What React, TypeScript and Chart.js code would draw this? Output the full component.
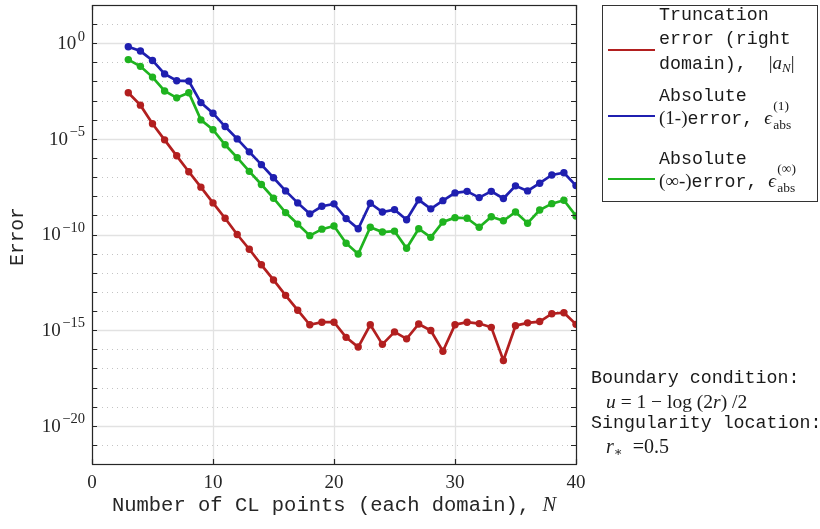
import React, { useEffect, useRef } from "react";
import { Chart, registerables } from "chart.js";

Chart.register(...registerables);

const nValues = [3,4,5,6,7,8,9,10,11,12,13,14,15,16,17,18,19,20,21,22,23,24,25,26,27,28,29,30,31,32,33,34,35,36,37,38,39,40];

const truncationError = [2.6e-3,5.8e-4,6.2e-5,8.9e-6,1.3e-6,1.9e-7,3.0e-8,4.5e-9,7.1e-10,1.0e-10,1.7e-11,2.6e-12,4.2e-13,6.6e-14,1.1e-14,1.9e-15,2.6e-15,2.6e-15,4.2e-16,1.3e-16,1.9e-15,1.8e-16,8.1e-16,3.5e-16,2.1e-15,9.5e-16,7.9e-17,1.9e-15,2.6e-15,2.2e-15,1.4e-15,2.6e-17,1.7e-15,2.4e-15,2.8e-15,7.2e-15,8.1e-15,2.0e-15];

const absError1 = [0.66,0.39,0.126,2.5e-2,1.1e-2,1.05e-2,7.9e-4,2.2e-4,4.4e-5,1.0e-5,2.1e-6,4.5e-7,9.3e-8,1.9e-8,4.5e-9,1.2e-9,3.0e-9,4.0e-9,6.8e-10,2.0e-10,4.3e-9,1.5e-9,2.0e-9,5.9e-10,6.5e-9,2.2e-9,5.9e-9,1.5e-8,1.8e-8,8.5e-9,1.8e-8,7.6e-9,3.5e-8,1.9e-8,4.8e-8,1.3e-7,1.7e-7,3.6e-8];

const absErrorInf = [0.14,6.2e-2,1.7e-2,3.2e-3,1.4e-3,2.6e-3,9.8e-5,3.0e-5,4.9e-6,1.05e-6,2.0e-7,4.1e-8,7.9e-9,1.4e-9,3.5e-10,8.7e-11,1.9e-10,2.8e-10,3.5e-11,9.5e-12,2.4e-10,1.35e-10,1.5e-10,1.9e-11,2.0e-10,7.1e-11,4.5e-10,7.6e-10,7.1e-10,2.4e-10,8.5e-10,5.2e-10,1.5e-9,3.9e-10,1.9e-9,4.1e-9,6.2e-9,9.3e-10];

const xTicks = [0, 10, 20, 30, 40];
const yMajorExponents = [0, -5, -10, -15, -20];
const yMinorExponents = [1, -1, -2, -3, -4, -6, -7, -8, -9, -11, -12, -13, -14, -16, -17, -18, -19, -21];
const yAllExponents = [1, 0, -1, -2, -3, -4, -5, -6, -7, -8, -9, -10, -11, -12, -13, -14, -15, -16, -17, -18, -19, -20, -21];

const RED = "#b21f1f";
const BLUE = "#1f1fb0";
const GREEN = "#1fb31f";

const SERIF = '"Liberation Serif", "DejaVu Serif", serif';
const MONO = '"Liberation Mono", "DejaVu Sans Mono", monospace';

const axesPlugin = {
  id: "customAxes",
  beforeDatasetsDraw(chart: any) {
    const { ctx, chartArea, scales } = chart;
    const xs = scales.x;
    const ys = scales.y;
    ctx.save();
    ctx.strokeStyle = "#c4c4c4";
    ctx.lineWidth = 1;
    ctx.setLineDash([1, 4]);
    for (const e of yMinorExponents) {
      const y = Math.round(ys.getPixelForValue(Math.pow(10, e))) + 0.5;
      ctx.beginPath();
      ctx.moveTo(chartArea.left, y);
      ctx.lineTo(chartArea.right, y);
      ctx.stroke();
    }
    ctx.setLineDash([]);
    ctx.strokeStyle = "#e2e2e2";
    ctx.lineWidth = 1.3;
    for (const e of yMajorExponents) {
      const y = Math.round(ys.getPixelForValue(Math.pow(10, e))) + 0.5;
      ctx.beginPath();
      ctx.moveTo(chartArea.left, y);
      ctx.lineTo(chartArea.right, y);
      ctx.stroke();
    }
    for (const t of xTicks) {
      const x = Math.round(xs.getPixelForValue(t)) + 0.5;
      ctx.beginPath();
      ctx.moveTo(x, chartArea.top);
      ctx.lineTo(x, chartArea.bottom);
      ctx.stroke();
    }
    ctx.restore();
  },
  afterDraw(chart: any) {
    const { ctx, chartArea, scales } = chart;
    const xs = scales.x;
    const ys = scales.y;
    const { left, right, top, bottom } = chartArea;
    ctx.save();
    ctx.strokeStyle = "#262626";
    ctx.lineWidth = 1.2;
    ctx.strokeRect(left + 0.5, top + 0.5, right - left, bottom - top);
    for (const e of yAllExponents) {
      const y = Math.round(ys.getPixelForValue(Math.pow(10, e))) + 0.5;
      ctx.beginPath();
      ctx.moveTo(left, y);
      ctx.lineTo(left + 5, y);
      ctx.moveTo(right, y);
      ctx.lineTo(right - 5, y);
      ctx.stroke();
    }
    for (const t of xTicks) {
      const x = Math.round(xs.getPixelForValue(t)) + 0.5;
      ctx.beginPath();
      ctx.moveTo(x, bottom);
      ctx.lineTo(x, bottom - 5);
      ctx.moveTo(x, top);
      ctx.lineTo(x, top + 5);
      ctx.stroke();
    }
    ctx.fillStyle = "#262626";
    for (const e of yMajorExponents) {
      const y = ys.getPixelForValue(Math.pow(10, e));
      const base = "10";
      const sup = e === 0 ? "0" : "\u2212" + String(-e);
      ctx.font = `19px ${SERIF}`;
      const wb = ctx.measureText(base).width;
      ctx.font = `14.5px ${SERIF}`;
      const ws = ctx.measureText(sup).width;
      const xEnd = left - 7;
      const x0 = xEnd - wb - ws - 1.5;
      ctx.textAlign = "left";
      ctx.textBaseline = "middle";
      ctx.font = `19px ${SERIF}`;
      ctx.fillText(base, x0, y + 1);
      ctx.font = `14.5px ${SERIF}`;
      ctx.fillText(sup, x0 + wb + 1.5, y - 6.5);
    }
    ctx.font = `19px ${SERIF}`;
    ctx.textAlign = "center";
    ctx.textBaseline = "middle";
    for (const t of xTicks) {
      ctx.fillText(String(t), xs.getPixelForValue(t), 483);
    }
    const part1 = "Number of CL points (each domain), ";
    const part2 = "N";
    ctx.font = `20.5px ${MONO}`;
    const w1 = ctx.measureText(part1).width;
    ctx.font = `italic 20.5px ${SERIF}`;
    const w2 = ctx.measureText(part2).width;
    const cx = (left + right) / 2;
    const sx = cx - (w1 + w2) / 2;
    ctx.textAlign = "left";
    ctx.font = `20.5px ${MONO}`;
    ctx.fillText(part1, sx, 506);
    ctx.font = `italic 20.5px ${SERIF}`;
    ctx.fillText(part2, sx + w1, 506);
    ctx.save();
    ctx.translate(18, (top + bottom) / 2 + 2);
    ctx.rotate(-Math.PI / 2);
    ctx.textAlign = "center";
    ctx.textBaseline = "middle";
    ctx.font = `19.5px ${MONO}`;
    ctx.fillText("Error", 0, 0);
    ctx.restore();
    ctx.restore();
  },
};

const mono: React.CSSProperties = { fontFamily: MONO, fontSize: 18.3, color: "#1a1a1a", whiteSpace: "nowrap" };
const serifI: React.CSSProperties = { fontFamily: SERIF, fontStyle: "italic" };
const serif: React.CSSProperties = { fontFamily: SERIF };

function Row({ top, left, children }: { top: number; left: number; children: React.ReactNode }) {
  return (
    <div style={{ position: "absolute", top: top - 11, left, height: 22, lineHeight: "22px", ...mono }}>
      {children}
    </div>
  );
}

function Eps({ sup }: { sup: string }) {
  return (
    <span style={{ position: "relative", display: "inline-block", width: 32, height: 22, verticalAlign: "top" }}>
      <span style={{ ...serifI, fontSize: 19, position: "absolute", left: 0, top: 0, lineHeight: "22px" }}>{"\u03F5"}</span>
      <span style={{ ...serif, fontSize: 13.5, position: "absolute", left: 9, top: -8, lineHeight: "14px" }}>{sup}</span>
      <span style={{ ...serif, fontSize: 13.5, position: "absolute", left: 9, top: 11, lineHeight: "14px" }}>abs</span>
    </span>
  );
}

function LegendLine({ top, color }: { top: number; color: string }) {
  return <div style={{ position: "absolute", left: 608, top: top - 1.25, width: 47, height: 2.5, background: color }} />;
}

export default function App() {
  const canvasRef = useRef<HTMLCanvasElement | null>(null);
  useEffect(() => {
    if (!canvasRef.current) return;
    const chart = new Chart(canvasRef.current, {
      type: "line",
      data: {
        labels: nValues,
        datasets: [
          { label: "Truncation error", data: nValues.map((n, i) => ({ x: n, y: truncationError[i] })), borderColor: RED, backgroundColor: RED, borderWidth: 2.7, pointRadius: 3.7, pointBorderWidth: 0, pointBackgroundColor: RED },
          { label: "Absolute (1-)error", data: nValues.map((n, i) => ({ x: n, y: absError1[i] })), borderColor: BLUE, backgroundColor: BLUE, borderWidth: 2.7, pointRadius: 3.7, pointBorderWidth: 0, pointBackgroundColor: BLUE },
          { label: "Absolute (inf-)error", data: nValues.map((n, i) => ({ x: n, y: absErrorInf[i] })), borderColor: GREEN, backgroundColor: GREEN, borderWidth: 2.7, pointRadius: 3.7, pointBorderWidth: 0, pointBackgroundColor: GREEN },
        ],
      },
      options: {
        animation: false,
        responsive: false,
        maintainAspectRatio: false,
        layout: { padding: { left: 92, right: 244, top: 5, bottom: 65 } },
        plugins: { legend: { display: false }, tooltip: { enabled: false }, title: { display: false } },
        scales: {
          x: { type: "linear", min: 0, max: 40, display: false },
          y: { type: "logarithmic", min: 1e-22, max: 1e2, display: false },
        },
      },
      plugins: [axesPlugin],
    });
    return () => chart.destroy();
  }, []);

  return (
    <div style={{ position: "absolute", left: 0, top: 0, width: 820, height: 529, background: "#fff" }}>
      <canvas ref={canvasRef} width={820} height={529} style={{ position: "absolute", left: 0, top: 0 }} />
      <div style={{ position: "absolute", left: 602, top: 5, width: 216, height: 197, border: "1.2px solid #333", boxSizing: "border-box", background: "#fff" }} />
      <LegendLine top={50} color={RED} />
      <LegendLine top={116} color={BLUE} />
      <LegendLine top={179} color={GREEN} />
      <Row top={15} left={659}>Truncation</Row>
      <Row top={39} left={659}>error (right</Row>
      <Row top={63} left={659}>
        domain),{"\u00A0\u00A0"}<span style={{ ...serif, fontSize: 19 }}>|</span><span style={{ ...serifI, fontSize: 19 }}>a</span><sub style={{ ...serifI, fontSize: 13, verticalAlign: "-3px" }}>N</sub><span style={{ ...serif, fontSize: 19 }}>|</span>
      </Row>
      <Row top={96} left={659}>Absolute</Row>
      <Row top={118} left={659}>
        <span style={{ ...serif, fontSize: 19 }}>(1-)</span>error,{"\u00A0"}<Eps sup="(1)" />
      </Row>
      <Row top={159} left={659}>Absolute</Row>
      <Row top={181} left={659}>
        <span style={{ ...serif, fontSize: 19 }}>({"\u221E"}-)</span>error,{"\u00A0"}<Eps sup={"(\u221E)"} />
      </Row>
      <Row top={378} left={591}>Boundary condition:</Row>
      <Row top={402} left={606}>
        <span style={{ ...serifI, fontSize: 19.5 }}>u</span>
        <span style={{ ...serif, fontSize: 19.5 }}>{" = 1 \u2212 log (2"}</span>
        <span style={{ ...serifI, fontSize: 19.5 }}>r</span>
        <span style={{ ...serif, fontSize: 19.5 }}>{") /2"}</span>
      </Row>
      <Row top={423} left={591}>Singularity location:</Row>
      <Row top={446} left={606}>
        <span style={{ ...serifI, fontSize: 20 }}>r</span>
        <sub style={{ ...serif, fontSize: 13, verticalAlign: "-3px" }}>{"\u2217"}</sub>
        <span style={{ ...serif, fontSize: 20 }}>{"\u2002=0.5"}</span>
      </Row>
    </div>
  );
}
